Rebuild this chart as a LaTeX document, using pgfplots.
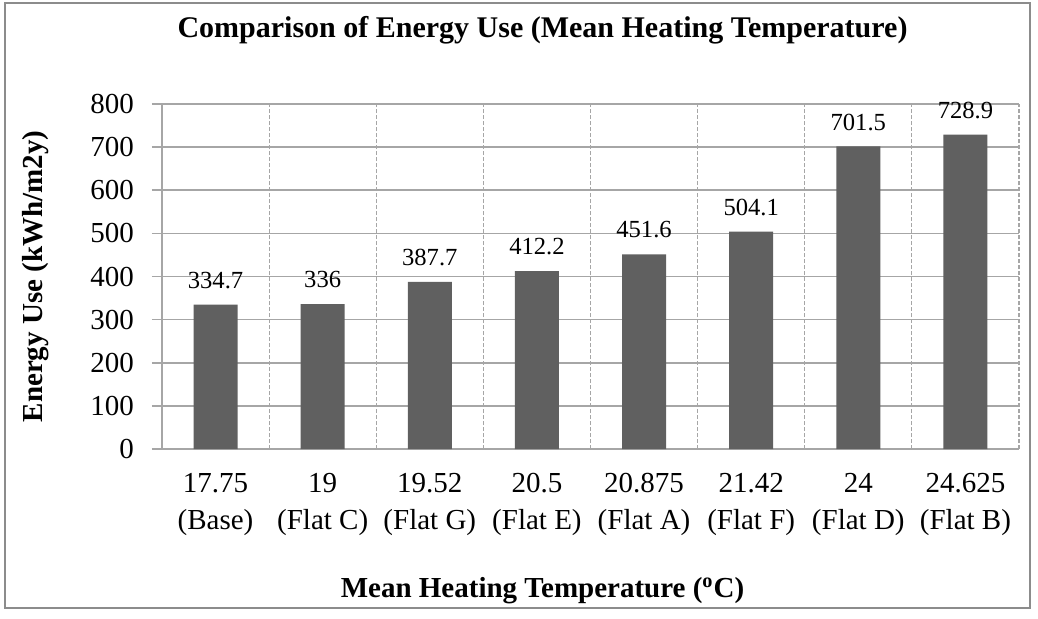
\documentclass[border=0pt]{standalone}
\usepackage{fontspec}
\setmainfont{Liberation Serif}
\usepackage{pgfplots}
\pgfplotsset{compat=1.18}
\definecolor{barcol}{HTML}{606060}
\definecolor{gridcol}{HTML}{A6A6A6}
\definecolor{framecol}{HTML}{8C8C8C}

\begin{document}
\begin{tikzpicture}
\fontsize{14.5}{18.5}\selectfont
\path[use as bounding box] (-81pt,-84.5pt) rectangle (438pt,224.5pt);
\fill[white] (-81pt,-84.5pt) rectangle (438pt,224.5pt);
\draw[framecol, line width=1pt] (-78.5pt,-79.5pt) rectangle (434pt,223pt);
\begin{axis}[
  at={(0,0)}, anchor=south west,
  scale only axis, width=428.5pt, height=172.5pt,
  clip=false,
  ymin=0, ymax=800, ytick={0,100,...,800},
  xmin=-0.5, xmax=7.5, xtick={0,...,7},
  xticklabels={{17.75\\(Base)},{19\\(Flat C)},{19.52\\(Flat G)},{20.5\\(Flat E)},
    {20.875\\(Flat A)},{21.42\\(Flat F)},{24\\(Flat D)},{24.625\\(Flat B)}},
  minor xtick={0.5,1.5,...,7.5},
  axis lines*=left,
  x axis line style={gridcol, line width=0.8pt},
  y axis line style={gridcol, line width=0.6pt},
  ymajorgrids, xminorgrids,
  major grid style={gridcol, line width=0.8pt},
  minor grid style={gridcol, line width=0.6pt, dash pattern=on 2pt off 1pt},
  ytick style={gridcol, line width=0.8pt},
  xtick style={draw=none},
  minor tick length=0pt,
  tick align=outside, major tick length=5pt,
  /pgf/number format/assume math mode=true,
  ticklabel style={font=\fontsize{14.5}{18.5}\selectfont},
  xticklabel style={align=center, yshift=-2pt},
  yticklabel style={xshift=-4pt},
  title={Comparison of Energy Use (Mean Heating Temperature)},
  title style={at={(0.5,1)}, anchor=center, yshift=31pt, xshift=-24pt,
    font=\fontsize{15}{18}\selectfont\bfseries},
  xlabel={Mean Heating Temperature (\textsuperscript{o}C)},
  xlabel style={at={(0.5,0)}, anchor=center, yshift=-71pt, xshift=-24pt,
    font=\fontsize{14.5}{17}\selectfont\bfseries},
  ylabel={Energy Use (kWh/m2y)},
  ylabel style={at={(axis description cs:-0.148,0.5)}, anchor=center,
    font=\fontsize{14.5}{17}\selectfont\bfseries},
  ybar, bar width=22pt,
  nodes near coords,
  nodes near coords style={font=\fontsize{12.3}{15}\selectfont, yshift=3pt},
]
\addplot[fill=barcol, draw=none] coordinates {
  (0,334.7) (1,336) (2,387.7) (3,412.2) (4,451.6) (5,504.1) (6,701.5) (7,728.9)
};
\end{axis}
\end{tikzpicture}
\end{document}
